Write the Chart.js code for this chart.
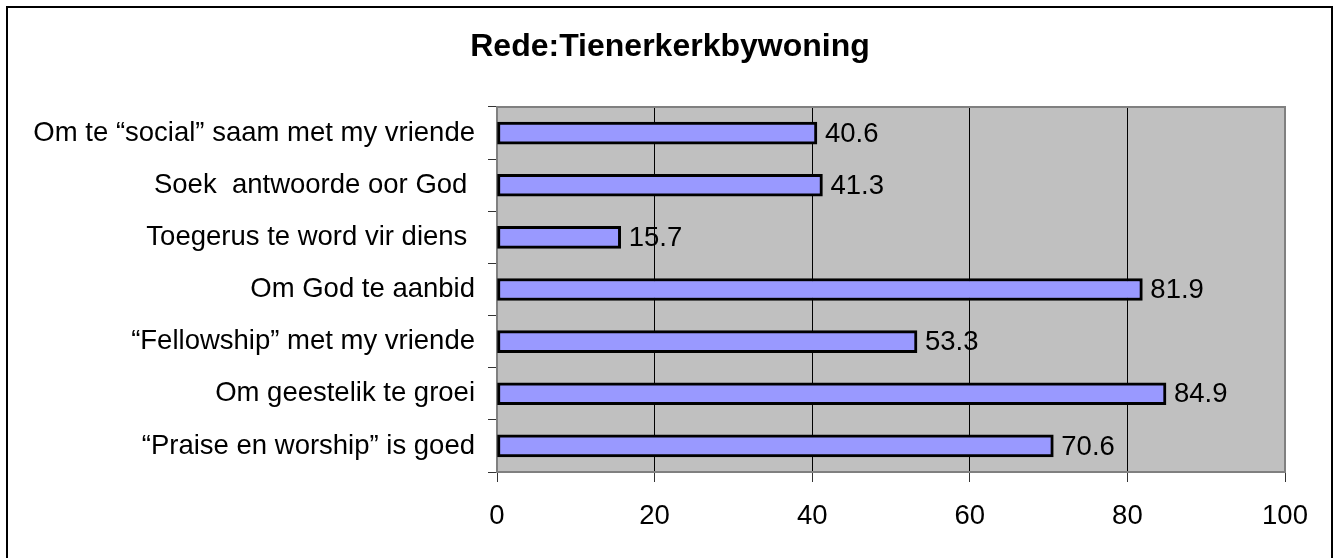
<!DOCTYPE html>
<html>
<head>
  <title>Rede:Tienerkerkbywoning</title>
  <script src="https://cdn.jsdelivr.net/npm/chart.js"></script>
  <style>
    body { margin: 0; background: #fff; }
    #wrap { width: 1336px; height: 558px; }
  </style>
</head>
<body>
  <div id="wrap"><canvas id="myChart" width="1336" height="558"></canvas></div>

  <script>
    // chart data
    const title = 'Rede:Tienerkerkbywoning';
    const categories = [
      'Om te \u201Csocial\u201D saam met my vriende',
      'Soek  antwoorde oor God ',
      'Toegerus te word vir diens ',
      'Om God te aanbid',
      '\u201CFellowship\u201D met my vriende',
      'Om geestelik te groei',
      '\u201CPraise en worship\u201D is goed'
    ];
    const values = [40.6, 41.3, 15.7, 81.9, 53.3, 84.9, 70.6];
    const xTicks = [0, 20, 40, 60, 80, 100];

    const FONT = '"Liberation Sans", Arial, sans-serif';
    const SIZE = 27.5;

    // gray plot area, frame, outer border and title
    const framePlugin = {
      id: 'frame',
      beforeDraw(chart) {
        const { ctx, chartArea: a } = chart;
        ctx.save();
        ctx.fillStyle = '#C0C0C0';
        ctx.fillRect(a.left, a.top, a.right - a.left, a.bottom - a.top);
        ctx.fillStyle = '#000';
        ctx.font = 'bold 32px ' + FONT;
        ctx.textAlign = 'center';
        ctx.textBaseline = 'middle';
        ctx.fillText(title, chart.width / 2 + 2, 47);
        ctx.restore();
      },
      beforeDatasetsDraw(chart) {
        const { ctx, chartArea: a } = chart;
        ctx.save();
        ctx.strokeStyle = '#808080';
        ctx.lineWidth = 2;
        ctx.strokeRect(a.left, a.top, a.right - a.left, a.bottom - a.top);
        ctx.strokeStyle = '#000';
        ctx.lineWidth = 2;
        ctx.strokeRect(7, 7, chart.width - 11, chart.height + 20);
        ctx.restore();
      }
    };

    // value labels at the end of each bar
    const labelPlugin = {
      id: 'barLabels',
      afterDatasetsDraw(chart) {
        const { ctx } = chart;
        const meta = chart.getDatasetMeta(0);
        ctx.save();
        ctx.font = SIZE + 'px ' + FONT;
        ctx.fillStyle = '#000';
        ctx.textBaseline = 'middle';
        ctx.textAlign = 'left';
        meta.data.forEach((bar, i) => {
          ctx.fillText(values[i].toFixed(1), bar.x + 8, bar.y + 1);
        });
        ctx.restore();
      }
    };

    const ctx = document.getElementById('myChart').getContext('2d');
    const myChart = new Chart(ctx, {
      type: 'bar',
      data: {
        labels: categories,
        datasets: [{
          data: values,
          backgroundColor: '#9999FF',
          borderColor: '#000',
          borderWidth: 3,
          borderSkipped: false,
          barThickness: 22
        }]
      },
      options: {
        indexAxis: 'y',
        responsive: false,
        animation: false,
        layout: { padding: { left: 0, right: 51, top: 107, bottom: 0 } },
        plugins: {
          legend: { display: false },
          tooltip: { enabled: false },
          title: { display: false }
        },
        scales: {
          x: {
            min: 0,
            max: 100,
            afterBuildTicks(scale) {
              scale.ticks = xTicks.map(v => ({ value: v }));
            },
            afterFit(scale) { scale.height = 86; },
            grid: {
              color: c => (c.tick && (c.tick.value === 0 || c.tick.value === 100)) ? 'rgba(0,0,0,0)' : '#000',
              tickColor: '#333',
              lineWidth: 1,
              tickLength: 10
            },
            border: { display: false },
            ticks: {
              color: '#000',
              font: { family: FONT, size: SIZE },
              padding: 18,
              maxRotation: 0
            }
          },
          y: {
            afterFit(scale) { scale.width = 497; },
            grid: {
              offset: true,
              drawOnChartArea: false,
              tickColor: '#333',
              tickLength: 9
            },
            border: { display: false },
            ticks: {
              color: '#000',
              font: { family: FONT, size: SIZE },
              padding: 13
            }
          }
        }
      },
      plugins: [framePlugin, labelPlugin]
    });
  </script>
</body>
</html>
